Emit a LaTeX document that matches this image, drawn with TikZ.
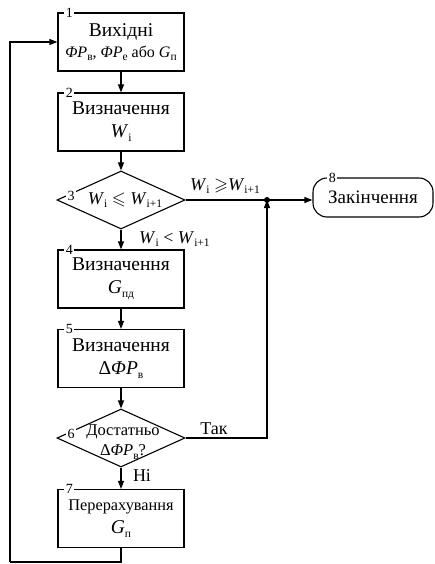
\documentclass[tikz,border=0pt]{standalone}
\usepackage{fontspec}
\setmainfont{Liberation Serif}
\usepackage{amssymb}
\usetikzlibrary{positioning, calc, shapes.geometric, arrows.meta}
\newcommand{\lo}[1]{\raisebox{-0.45ex}{\fontsize{11.5}{11.5}\selectfont #1}}
\newcommand{\vi}[1]{\textit{#1}}
\tikzset{
	blockbox/.style={draw, line width=1.1pt, minimum width=126pt, minimum height=58pt,
		inner sep=0pt, align=center, font=\fontsize{19.5}{23}\selectfont},
	decision/.style={draw, diamond, line width=1.1pt, minimum width=128pt, minimum height=58pt,
		inner sep=0pt},
	terminal/.style={draw, line width=1.1pt, rounded corners=14pt, minimum width=120pt,
		minimum height=39pt, inner sep=0pt, font=\fontsize{19}{22}\selectfont},
	numlabel/.style={fill=white, inner sep=1.5pt, font=\fontsize{14}{14}\selectfont},
	flowline/.style={line width=1.1pt, -{Triangle[length=8pt, width=6pt]}},
	plainline/.style={line width=1.1pt},
	tag/.style={inner sep=0pt, font=\fontsize{18}{20}\selectfont}
}
\begin{document}
\begin{tikzpicture}[x=1pt, y=-1pt]
	\useasboundingbox (0,0) rectangle (434,564);
	\node[blockbox] (b1) at (121,42) {};
	\node[tag, align=center] (t1) at (121,42) {{\fontsize{19.5}{22}\selectfont Вихідні}\\[1pt]
		{\fontsize{16}{18}\selectfont \vi{ΦP}\lo{в}, \vi{ΦP}\lo{е} або \vi{G}\lo{п}}};
	\node[blockbox] (b2) at (121,122) {Визначення\\\vi{W}\lo{i}};
	\node[decision] (d3) at (121,200) {};
	\node[tag] (t3) at (125,200) {\vi{W}\lo{i} $\leqslant$ \vi{W}\lo{i+1}};
	\node[blockbox] (b4) at (121,279) {Визначення\\\vi{G}\lo{пд}};
	\node[blockbox] (b5) at (121,358.5) {Визначення\\Δ\vi{ΦP}\lo{в}};
	\node[decision] (d6) at (121,438) {};
	\node[tag, align=center, font=\fontsize{16.5}{20}\selectfont] (t6) at (123,442)
		{Достатньо\\Δ\vi{ΦP}\lo{в}?};
	\node[blockbox, font=\fontsize{16.3}{23}\selectfont] (b7) at (121,518.5) {Перерахування\\
		{\fontsize{19.5}{19.5}\selectfont\vi{G}\lo{п}}};
	\node[terminal] (b8) at (373,197.5) {Закінчення};

	\node[numlabel] (n1) at ([xshift=12pt]b1.north west) {1};
	\node[numlabel] (n2) at ([xshift=12pt]b2.north west) {2};
	\node[numlabel] (n3) at (71,196) {3};
	\node[numlabel] (n4) at ([xshift=12pt]b4.north west) {4};
	\node[numlabel] (n5) at ([xshift=12pt]b5.north west) {5};
	\node[numlabel] (n6) at (71,434) {6};
	\node[numlabel] (n7) at ([xshift=12pt]b7.north west) {7};
	\node[numlabel] (n8) at ([xshift=20pt]b8.north west) {8};

	\coordinate (j) at (267,200);
	\coordinate (lp) at (10,562);

	\draw[flowline] (b1) -- (b2);
	\draw[flowline] (b2) -- (d3);
	\draw[flowline] (d3) -- (b4);
	\draw[flowline] (b4) -- (b5);
	\draw[flowline] (b5) -- (d6);
	\draw[flowline] (d6) -- (b7);
	\draw[plainline] (d3.east) -- (j);
	\draw[flowline] (j) -- (j -| b8.west);
	\draw[flowline] (d6.east) -| (j);
	\fill (j) circle (3pt);
	\draw[plainline] (b7.south) |- (lp);
	\draw[flowline] (lp) |- (b1.west);

	\node[tag] (l1) at (225,186) {\vi{W}\lo{i} $\geqslant$\vi{W}\lo{i+1}};
	\node[tag, anchor=west] (l2) at (139,239) {\vi{W}\lo{i} < \vi{W}\lo{i+1}};
	\node[tag] (l3) at (214,429) {Так};
	\node[tag] (l4) at (142,476) {Ні};
\end{tikzpicture}
\end{document}
